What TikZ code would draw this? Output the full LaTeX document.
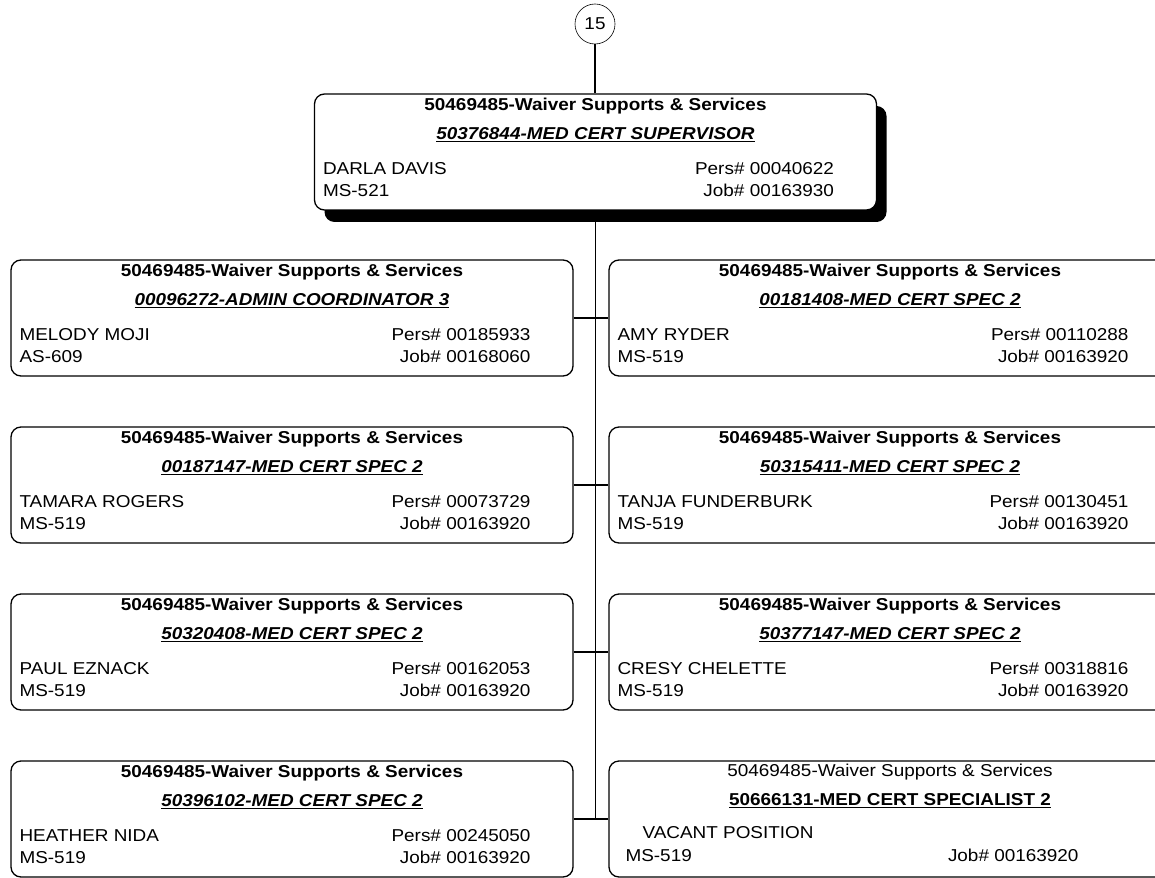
\documentclass[tikz,border=0pt]{standalone}
\usepackage{fontspec}
\setmainfont{Liberation Sans}[FakeStretch=1.1]
\usetikzlibrary{calc,shadows}

\newcommand{\boxfont}{\fontsize{17.2}{20}\selectfont}
% one position box: name, centre, position, person, grade, pers no, job no
\newcommand{\staffbox}[7]{%
  \node[unit] (#1) at (#2) {};
  \node[head] (#1-org) at ($(#1.north)+(0,17)$) {50469485-Waiver Supports \& Services};
  \node[head] (#1-pos) at ($(#1.north)+(0,46)$) {\underline{\textit{#3}}};
  \node[txt,anchor=base west] (#1-name) at ($(#1.north west)+(9,81)$) {#4};
  \node[txt,anchor=base west] (#1-ms) at ($(#1.north west)+(9,103)$) {#5};
  \node[txt,anchor=base east] (#1-pers) at ($(#1.north east)+(-43,81)$) {Pers\# #6};
  \node[txt,anchor=base east] (#1-job) at ($(#1.north east)+(-43,103)$) {Job\# #7};
}

\begin{document}
\begin{tikzpicture}[x=1pt,y=-1pt,
    unit/.style={draw,line width=1.3pt,rounded corners=10pt,fill=white,
      minimum width=562pt,minimum height=116pt,inner sep=0pt},
    head/.style={anchor=base,inner sep=0pt,font=\boxfont\bfseries},
    txt/.style={inner sep=0pt,font=\boxfont},
    link/.style={line width=1.3pt}]
  \clip (0,0) rectangle (1155,877);

  \node[draw,circle,line width=0.6pt,minimum size=40pt,inner sep=0pt,font=\boxfont] (page) at (595,24) {15};

  % supervisor
  \begin{scope}[unit/.append style={drop shadow={shadow xshift=10pt,shadow yshift=-12pt,fill=black,opacity=1}}]
    \staffbox{sup}{595.5,152}{50376844-MED CERT SUPERVISOR}{DARLA DAVIS}{MS-521}{00040622}{00163930}
  \end{scope}

  % left column
  \staffbox{l1}{292,318}{00096272-ADMIN COORDINATOR 3}{MELODY MOJI}{AS-609}{00185933}{00168060}
  \staffbox{l2}{292,485}{00187147-MED CERT SPEC 2}{TAMARA ROGERS}{MS-519}{00073729}{00163920}
  \staffbox{l3}{292,652}{50320408-MED CERT SPEC 2}{PAUL EZNACK}{MS-519}{00162053}{00163920}
  \staffbox{l4}{292,819}{50396102-MED CERT SPEC 2}{HEATHER NIDA}{MS-519}{00245050}{00163920}

  % right column
  \staffbox{r1}{890,318}{00181408-MED CERT SPEC 2}{AMY RYDER}{MS-519}{00110288}{00163920}
  \staffbox{r2}{890,485}{50315411-MED CERT SPEC 2}{TANJA FUNDERBURK}{MS-519}{00130451}{00163920}
  \staffbox{r3}{890,652}{50377147-MED CERT SPEC 2}{CRESY CHELETTE}{MS-519}{00318816}{00163920}

  % vacant position
  \node[unit] (r4) at (890,819) {};
  \node[txt,anchor=base] (r4-org) at ($(r4.north)+(0,16)$) {50469485-Waiver Supports \& Services};
  \node[head] (r4-pos) at ($(r4.north)+(0,45)$) {\underline{50666131-MED CERT SPECIALIST 2}};
  \node[txt,anchor=base west] (r4-name) at ($(r4.north west)+(34,78)$) {VACANT POSITION};
  \node[txt,anchor=base west] (r4-ms) at ($(r4.north west)+(17,101)$) {MS-519};
  \node[txt,anchor=base east] (r4-job) at ($(r4.north east)+(-93,101)$) {Job\# 00163920};

  % connectors
  \draw[link] (page.south) -- (page.south |- sup.north);
  \draw[link] (sup.south) -- (sup.south |- l4.east);
  \draw[link] (l1.east) -- (r1.west);
  \draw[link] (l2.east) -- (r2.west);
  \draw[link] (l3.east) -- (r3.west);
  \draw[link] (l4.east) -- (r4.west);
\end{tikzpicture}
\end{document}
